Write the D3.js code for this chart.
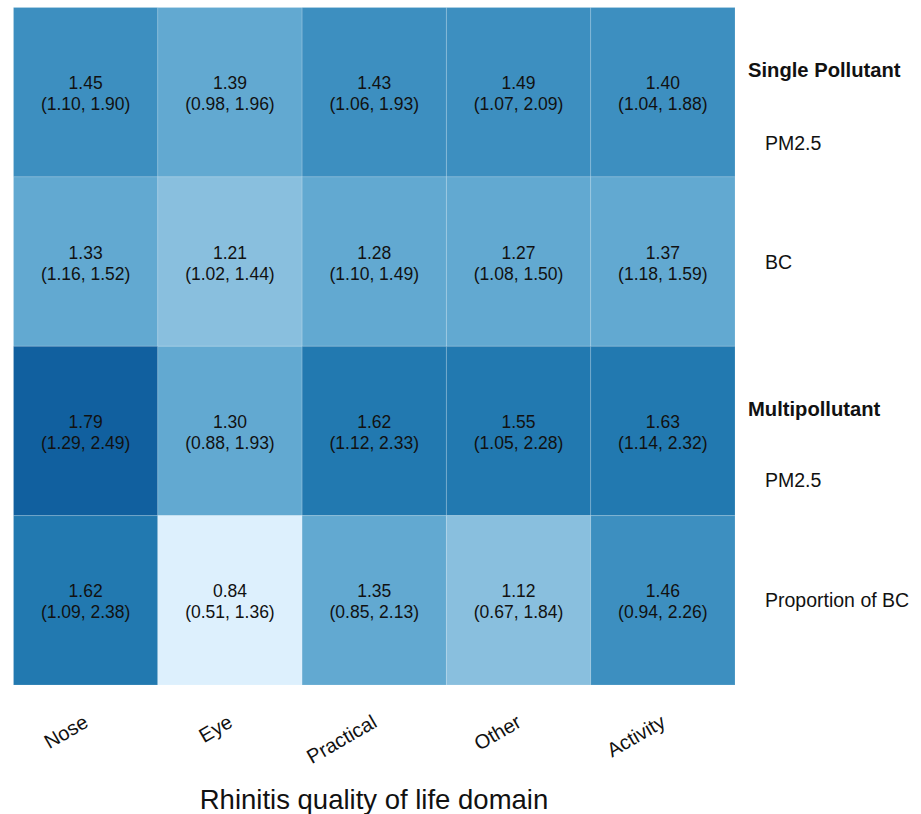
<!DOCTYPE html>
<html><head><meta charset="utf-8">
<script src="https://cdn.jsdelivr.net/npm/d3@7"></script>
<style>body{margin:0;background:#fff;} svg{display:block;}</style>
</head><body>
<svg id="chart" width="921" height="814"></svg>
<script>
const domains = ["Nose","Eye","Practical","Other","Activity"];
const rowKeys = ["sp_pm","sp_bc","mp_pm","mp_bc"];
const rowLabels = ["PM2.5","BC","PM2.5","Proportion of BC"];
const groupLabels = ["Single Pollutant","Multipollutant"];
const est = [
  [1.45,1.39,1.43,1.49,1.40],
  [1.33,1.21,1.28,1.27,1.37],
  [1.79,1.30,1.62,1.55,1.63],
  [1.62,0.84,1.35,1.12,1.46]
];
const lower = [
  [1.10,0.98,1.06,1.07,1.04],
  [1.16,1.02,1.10,1.08,1.18],
  [1.29,0.88,1.12,1.05,1.14],
  [1.09,0.51,0.85,0.67,0.94]
];
const upper = [
  [1.90,1.96,1.93,2.09,1.88],
  [1.52,1.44,1.49,1.50,1.59],
  [2.49,1.93,2.33,2.28,2.32],
  [2.38,1.36,2.13,1.84,2.26]
];
const colorBreaks = [1.0, 1.25, 1.4, 1.5, 1.7];
const colorRange = ["#ddf0fd","#89bfde","#62a9d1","#3d8fc0","#2279b0","#11609f"];

const svg = d3.select("#chart");
const x = d3.scaleBand().domain(domains).range([13.5, 735]);
const y = d3.scaleBand().domain(rowKeys).range([7.5, 685]);
const color = d3.scaleThreshold().domain(colorBreaks).range(colorRange);

const cells = [];
rowKeys.forEach((r,i)=>domains.forEach((d,j)=>cells.push({r,d,v:est[i][j],lo:lower[i][j],hi:upper[i][j]})));

svg.append("g").selectAll("rect").data(cells).join("rect")
  .attr("x",c=>x(c.d)).attr("y",c=>y(c.r))
  .attr("width",x.bandwidth()).attr("height",y.bandwidth())
  .attr("fill",c=>color(c.v))
  .attr("stroke","rgba(255,255,255,0.15)").attr("stroke-width",1);

const tg = svg.append("g").attr("font-family","Liberation Sans, Arial, sans-serif")
  .attr("font-size",17.5).attr("fill","#111").attr("text-anchor","middle");
tg.selectAll("text.v").data(cells).join("text").attr("class","v")
  .attr("x",c=>x(c.d)+x.bandwidth()/2).attr("y",c=>y(c.r)+y.bandwidth()/2-3)
  .text(c=>c.v.toFixed(2));
tg.selectAll("text.ci").data(cells).join("text").attr("class","ci")
  .attr("x",c=>x(c.d)+x.bandwidth()/2).attr("y",c=>y(c.r)+y.bandwidth()/2+18)
  .text(c=>`(${c.lo.toFixed(2)}, ${c.hi.toFixed(2)})`);

// right labels
const rg = svg.append("g").attr("font-family","Liberation Sans, Arial, sans-serif").attr("fill","#111");
const rowOffsets = [51, 0, 49, 0];
rg.selectAll("text.rl").data(rowKeys).join("text").attr("class","rl")
  .attr("x",765).attr("y",(r,i)=>y(r)+y.bandwidth()/2+rowOffsets[i]+7)
  .attr("font-size",19.5).text((r,i)=>rowLabels[i]);
rg.selectAll("text.gl").data(groupLabels).join("text").attr("class","gl")
  .attr("x",748).attr("y",(g,i)=>y(rowKeys[i*2])+y.bandwidth()/2-15)
  .attr("font-size",20.2).attr("font-weight","bold").text(g=>g);

// x axis labels
const xg = svg.append("g").attr("font-family","Liberation Sans, Arial, sans-serif").attr("fill","#111");
xg.selectAll("text").data(domains).join("text")
  .attr("text-anchor","end")
  .attr("transform",d=>`translate(${x(d)+x.bandwidth()/2+4},${726}) rotate(-30)`)
  .attr("font-size",20).text(d=>d);

svg.append("text").attr("x",374).attr("y",809).attr("text-anchor","middle")
  .attr("font-family","Liberation Sans, Arial, sans-serif").attr("font-size",27.5).attr("fill","#111")
  .text("Rhinitis quality of life domain");
</script>
</body></html>
